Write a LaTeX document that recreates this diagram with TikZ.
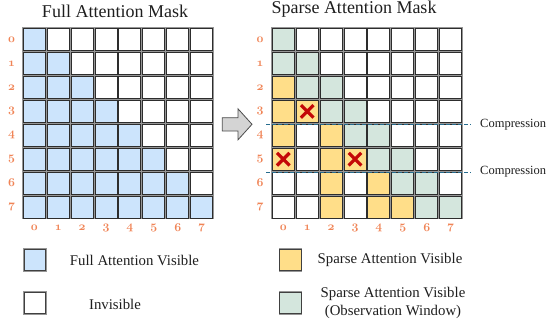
\documentclass[tikz,border=0pt]{standalone}
\usepackage{fontspec}
\setmainfont{Liberation Serif}

\definecolor{fullblue}{RGB}{204,228,252}
\definecolor{sy}{RGB}{255,222,137}
\definecolor{og}{RGB}{212,230,221}
\colorlet{nw}{white}
\definecolor{idxorange}{RGB}{240,132,86}
\definecolor{cellline}{RGB}{45,45,45}
\definecolor{cellshade}{RGB}{150,150,150}
\definecolor{cutblue}{RGB}{38,108,142}
\definecolor{crossred}{RGB}{196,8,8}
\definecolor{textgray}{RGB}{30,30,30}

% bold old-style figures for the indices
\newcommand{\idxnum}[1]{{\usefont{OML}{cmm}{b}{it}#1}}

\begin{document}
\begin{tikzpicture}[x=1pt,y=-1pt,
  cell/.style={preaction={draw=cellshade, line width=2.6pt}, draw=cellline, line width=1pt,
    minimum size=22pt, inner sep=0pt, outer sep=0pt},
  idx/.style={text=idxorange, font=\fontsize{12}{12}\selectfont, inner sep=0pt},
  title/.style={text=textgray, font=\fontsize{18}{20}\selectfont, anchor=base, inner sep=0pt},
  legtext/.style={text=textgray, font=\fontsize{14.8}{17.5}\selectfont, inner sep=0pt, align=center},
  legbox/.style={preaction={draw=cellshade, line width=2.4pt}, draw=black!75, line width=1pt,
    minimum size=21.5pt, inner sep=0pt},
  cutline/.style={draw=cutblue, line width=1.2pt, dash pattern=on 4pt off 2pt},
  cutlabel/.style={text=textgray, font=\fontsize{12.5}{14}\selectfont, anchor=west, inner sep=0pt},
  xmark/.style={draw=crossred, line width=3.2pt},
  arrowshape/.style={draw=black!70, fill=black!17, line width=0.8pt, line join=miter}]

\useasboundingbox (0,0) rectangle (546,327);

% titles
\node[title] (tfull) at (115,17.5) {Full Attention Mask};
\node[title] (tsparse) at (354,13) {Sparse Attention Mask};

% full attention mask: causal lower triangle
\foreach \r in {0,...,7} {
  \foreach \c in {0,...,7} {
    \ifnum\c>\r
      \node[cell, fill=white] (L-\r-\c) at (34.3+\c*23.9, 39.7+\r*23.9) {};
    \else
      \node[cell, fill=fullblue] (L-\r-\c) at (34.3+\c*23.9, 39.7+\r*23.9) {};
    \fi
  }
}

% sparse attention mask
\foreach \r/\codes in {
  0/{og,nw,nw,nw,nw,nw,nw,nw},
  1/{og,og,nw,nw,nw,nw,nw,nw},
  2/{sy,og,og,nw,nw,nw,nw,nw},
  3/{sy,sy,og,og,nw,nw,nw,nw},
  4/{sy,nw,sy,og,og,nw,nw,nw},
  5/{sy,nw,sy,sy,og,og,nw,nw},
  6/{nw,nw,sy,nw,sy,og,og,nw},
  7/{nw,nw,sy,nw,sy,sy,og,og}} {
  \foreach \k [count=\n from 0] in \codes {
    \node[cell, fill=\k] (S-\r-\n) at (283.3+\n*23.9, 39.7+\r*23.9) {};
  }
}

% row and column indices
\foreach \i in {0,...,7} {
  \node[idx] (rl-\i) at (11.5, 39.7+\i*23.9) {\idxnum{\i}};
  \node[idx] (rs-\i) at (260, 39.7+\i*23.9) {\idxnum{\i}};
  \node[idx] (cl-\i) at (34.3+\i*23.9, 228) {\idxnum{\i}};
  \node[idx] (cs-\i) at (283.3+\i*23.9, 228) {\idxnum{\i}};
}

% evicted entries
\foreach \cellname in {S-3-1, S-5-0, S-5-3} {
  \draw[xmark] (\cellname.center) +(-6.3,-6.3) -- +(6.3,6.3) +(-6.3,6.3) -- +(6.3,-6.3);
}

% arrow between the masks
\draw[arrowshape] (222.3,117.7) -- (238,117.7) -- (238,108.8) -- (252,124.3)
  -- (238,139.8) -- (238,131) -- (222.3,131) -- cycle;

% compression boundaries
\coordinate (d1) at (266,124.3);
\coordinate (d2) at (266,172.1);
\node[cutlabel] (c1) at (480,124.3) {Compression};
\node[cutlabel] (c2) at (480,172.1) {Compression};
\draw[cutline, shorten >=9pt] (d1) -- (c1.west);
\draw[cutline, shorten >=9pt] (d2) -- (c2.west);

% legend
\node[legbox, fill=fullblue] (kfull) at (34.8,260) {};
\node[legbox, fill=white] (kinv) at (34.8,303) {};
\node[legbox, fill=sy] (ksparse) at (290.5,260) {};
\node[legbox, fill=og] (kobs) at (290.5,303) {};
\node[legtext] (lfull) at (134.5,260) {Full Attention Visible};
\node[legtext] (linv) at (115,304) {Invisible};
\node[legtext] (lsparse) at (390,260) {Sparse Attention Visible};
\node[legtext] (lobs) at (393,303) {Sparse Attention Visible\\(Observation Window)};
\end{tikzpicture}
\end{document}
